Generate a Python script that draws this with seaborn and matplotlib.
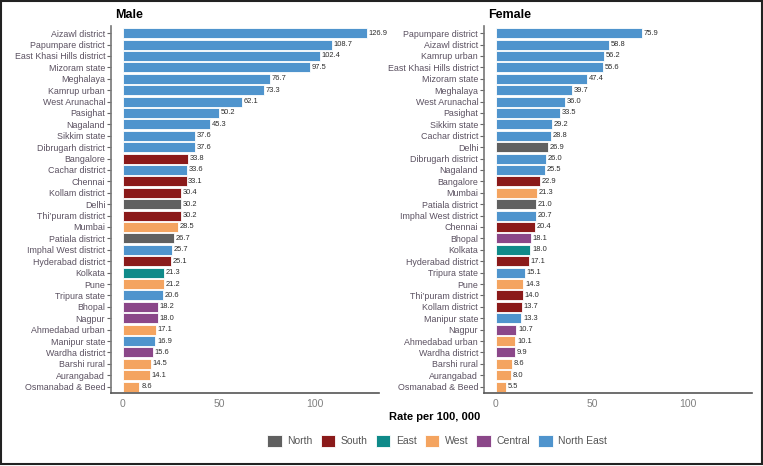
import pandas as pd
import seaborn as sns
import matplotlib.pyplot as plt
from matplotlib.patches import Patch, Rectangle

# Male rates per 100,000 (sorted as in the chart)
male_sites = ['Aizawl district', 'Papumpare district', 'East Khasi Hills district', 'Mizoram state',
              'Meghalaya', 'Kamrup urban', 'West Arunachal', 'Pasighat', 'Nagaland', 'Sikkim state',
              'Dibrugarh district', 'Bangalore', 'Cachar district', 'Chennai', 'Kollam district',
              'Delhi', 'Thi\u2019puram district', 'Mumbai', 'Patiala district', 'Imphal West district',
              'Hyderabad district', 'Kolkata', 'Pune', 'Tripura state', 'Bhopal', 'Nagpur',
              'Ahmedabad urban', 'Manipur state', 'Wardha district', 'Barshi rural', 'Aurangabad',
              'Osmanabad & Beed']
male_rates = [126.9, 108.7, 102.4, 97.5, 76.7, 73.3, 62.1, 50.2, 45.3, 37.6,
              37.6, 33.8, 33.6, 33.1, 30.4, 30.2, 30.2, 28.5, 26.7, 25.7,
              25.1, 21.3, 21.2, 20.6, 18.2, 18.0, 17.1, 16.9, 15.6, 14.5, 14.1, 8.6]
male_regions = ['North East', 'North East', 'North East', 'North East', 'North East', 'North East',
                'North East', 'North East', 'North East', 'North East', 'North East', 'South',
                'North East', 'South', 'South', 'North', 'South', 'West', 'North', 'North East',
                'South', 'East', 'West', 'North East', 'Central', 'Central', 'West', 'North East',
                'Central', 'West', 'West', 'West']

# Female rates per 100,000
female_sites = ['Papumpare district', 'Aizawl district', 'Kamrup urban', 'East Khasi Hills district',
                'Mizoram state', 'Meghalaya', 'West Arunachal', 'Pasighat', 'Sikkim state',
                'Cachar district', 'Delhi', 'Dibrugarh district', 'Nagaland', 'Bangalore', 'Mumbai',
                'Patiala district', 'Imphal West district', 'Chennai', 'Bhopal', 'Kolkata',
                'Hyderabad district', 'Tripura state', 'Pune', 'Thi\u2019puram district',
                'Kollam district', 'Manipur state', 'Nagpur', 'Ahmedabad urban', 'Wardha district',
                'Barshi rural', 'Aurangabad', 'Osmanabad & Beed']
female_rates = [75.9, 58.8, 56.2, 55.6, 47.4, 39.7, 36.0, 33.5, 29.2, 28.8,
                26.9, 26.0, 25.5, 22.9, 21.3, 21.0, 20.7, 20.4, 18.1, 18.0,
                17.1, 15.1, 14.3, 14.0, 13.7, 13.3, 10.7, 10.1, 9.9, 8.6, 8.0, 5.5]
female_regions = ['North East', 'North East', 'North East', 'North East', 'North East', 'North East',
                  'North East', 'North East', 'North East', 'North East', 'North', 'North East',
                  'North East', 'South', 'West', 'North', 'North East', 'South', 'Central', 'East',
                  'South', 'North East', 'West', 'South', 'South', 'North East', 'Central', 'West',
                  'Central', 'West', 'West', 'West']

region_names = ['North', 'South', 'East', 'West', 'Central', 'North East']
region_colors = ['#606060', '#8b1a1a', '#0f8a89', '#f4a460', '#8b4789', '#4f94cd']
palette = dict(zip(region_names, region_colors))

sns.set_theme(style='white')
plt.rcParams['font.family'] = ['Liberation Sans', 'DejaVu Sans']


def drawPanel(ax, sites, rates, regions, title):
    df = pd.DataFrame({'site': sites, 'rate': rates, 'region': regions})
    sns.barplot(data=df, x='rate', y='site', hue='region', order=sites, hue_order=region_names,
                palette=palette, saturation=1, dodge=False, width=0.88, edgecolor='white',
                linewidth=0.6, errorbar=None, legend=False, ax=ax)
    for i, v in enumerate(rates):
        ax.annotate(f'{v:.1f}', (v, i), xytext=(1.2, 0), textcoords='offset points',
                    ha='left', va='center', fontsize=5.4, color='#2b2b2b')
    ax.set_xlim(-6.35, 133.25)
    ax.set_ylim(len(sites) - 0.4, -0.6)
    ax.set_xticks([0, 50, 100])
    ax.set_xlabel('')
    ax.set_ylabel('')
    sns.despine(ax=ax)
    ax.spines['left'].set_color('#777777')
    ax.spines['left'].set_linewidth(1.2)
    ax.spines['bottom'].set_color('#555555')
    ax.spines['bottom'].set_linewidth(1.2)
    ax.tick_params(axis='y', left=True, length=3, width=0.8, color='#666666',
                   labelsize=6.4, labelcolor='#5a5060', pad=1)
    ax.tick_params(axis='x', bottom=False, length=0, labelsize=7.5, labelcolor='#808080', pad=4)
    ax.text(0.015, 1.014, title, transform=ax.transAxes, ha='left', va='bottom',
            fontsize=9, fontweight='bold', color='black')


fig = plt.figure(figsize=(7.63, 4.66), dpi=100)
axMale = fig.add_axes([0.1452, 0.1556, 0.3513, 0.788])
axFemale = fig.add_axes([0.634, 0.1556, 0.3513, 0.788])
drawPanel(axMale, male_sites, male_rates, male_regions, 'Male')
drawPanel(axFemale, female_sites, female_rates, female_regions, 'Female')

fig.text(0.57, 0.105, 'Rate per 100, 000', ha='center', va='center',
         fontsize=8, fontweight='bold', color='black')

handles = [Patch(facecolor=c, edgecolor='white', linewidth=0.6) for c in region_colors]
fig.legend(handles, region_names, loc='center', bbox_to_anchor=(0.573, 0.054), ncol=6,
           frameon=False, fontsize=7.5, labelcolor='#555555', handlelength=1.4, handleheight=1.4,
           handletextpad=0.5, columnspacing=0.8)

fig.add_artist(Rectangle((0.5 / 763, 2 / 466), 761 / 763, 463 / 466, transform=fig.transFigure,
                         fill=False, edgecolor='#222222', linewidth=1.5))

plt.savefig('out.png', dpi=100)
plt.close()
